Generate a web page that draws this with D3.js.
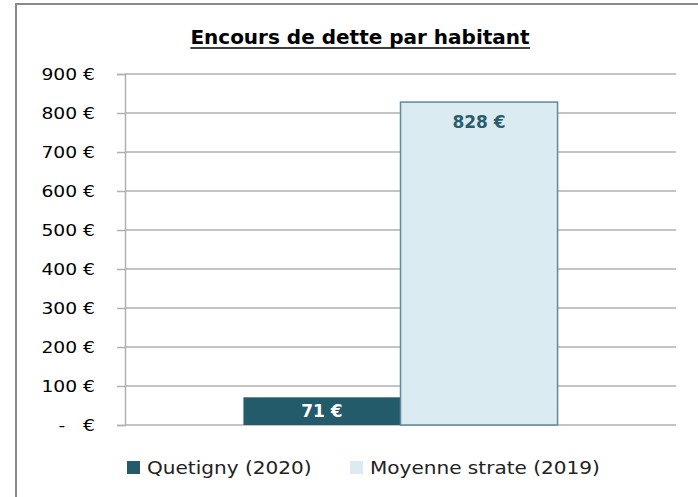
<!DOCTYPE html>
<html><head><meta charset="utf-8">
<script src="https://cdn.jsdelivr.net/npm/d3@7"></script>
<style>body{margin:0;background:#fff}svg{display:block}text{font-family:"DejaVu Sans",sans-serif}</style>
</head><body>
<svg id="c" width="698" height="497"></svg>
<script>
const title = "Encours de dette par habitant";
const groups = [""];
const series = ["Quetigny (2020)", "Moyenne strate (2019)"];
const values = [71, 828];
const colors = ["#245b6a", "#daecf2"];
const labelColors = ["#ffffff", "#2a5d6b"];
const yTicks = [0, 100, 200, 300, 400, 500, 600, 700, 800, 900];

const svg = d3.select("#c");
const mLeft = 125, mRight = 676, mTop = 74, mBottom = 425;
const sx = 1.17;

// frame
svg.append("line").attr("x1",16).attr("x2",16).attr("y1",3).attr("y2",497).attr("stroke","#8a8a8a").attr("stroke-width",2);
svg.append("line").attr("x1",15).attr("x2",698).attr("y1",4).attr("y2",4).attr("stroke","#8a8a8a").attr("stroke-width",2);

const y = d3.scaleLinear().domain([0, 900]).range([mBottom, mTop]);
const x0 = d3.scaleBand().domain(groups).range([mLeft, mRight]).paddingInner(0).paddingOuter(0.377);
const x1 = d3.scaleBand().domain(series).range([0, x0.bandwidth()]).padding(0);

// title
const t = svg.append("text").attr("x", 360).attr("y", 44).attr("text-anchor","middle")
  .attr("font-size", 20).attr("font-weight","bold").attr("fill","#000").text(title);
const bb = t.node().getBBox();
svg.append("line").attr("x1", bb.x).attr("x2", bb.x + bb.width).attr("y1", 48).attr("y2", 48).attr("stroke","#000").attr("stroke-width",1.4);

// grid
const gy = svg.append("g").attr("transform", `translate(${mLeft},0)`)
  .call(d3.axisLeft(y).tickValues(yTicks).tickSize(8).tickPadding(22)
    .tickFormat(d => d === 0 ? "-   €" : d + " €"));
gy.select(".domain").attr("stroke","#b0b0b0").attr("stroke-width",1.5);
gy.selectAll(".tick line").attr("stroke","#b0b0b0").attr("stroke-width",1.5);
gy.selectAll(".tick text").attr("font-size",16).attr("fill","#000").style("white-space","pre")
  .attr("font-family","DejaVu Sans").attr("x", -30/sx).attr("transform", `scale(${sx},1)`);
svg.append("g").selectAll("line").data(yTicks).join("line")
  .attr("x1", mLeft).attr("x2", mRight).attr("y1", d => y(d)).attr("y2", d => y(d))
  .attr("stroke","#b0b0b0").attr("stroke-width",1.5);

// bars
const g = svg.append("g").attr("transform", `translate(${x0("")},0)`);
g.selectAll("rect").data(values).join("rect")
  .attr("x", (d,i) => x1(series[i])).attr("width", x1.bandwidth())
  .attr("y", d => y(d)).attr("height", d => mBottom - y(d))
  .attr("fill", (d,i) => colors[i])
  .attr("stroke", (d,i) => i === 0 ? "none" : "#5d8b99").attr("stroke-width", 1.5);

g.selectAll("text.lbl").data(values).join("text").attr("class","lbl")
  .attr("x", (d,i) => x1(series[i]) + x1.bandwidth()/2)
  .attr("y", (d,i) => i === 0 ? (y(d) + mBottom)/2 + 6 : y(d) + 26)
  .attr("text-anchor","middle").attr("font-size",17).attr("font-weight","bold")
  .attr("fill", (d,i) => labelColors[i]).text(d => d + " €");

// legend
const legX = [127, 350];
const lg = svg.append("g").selectAll("g").data(series).join("g")
  .attr("transform", (d,i) => `translate(${legX[i]},461)`);
lg.append("rect").attr("width",13).attr("height",13).attr("fill",(d,i)=>colors[i]);
lg.append("text").attr("x",20).attr("y",12.5).attr("font-size",17).attr("fill","#222")
  .attr("transform", "scale(1.18,1)").attr("x", 20/1.18).text(d=>d);
</script>
</body></html>
